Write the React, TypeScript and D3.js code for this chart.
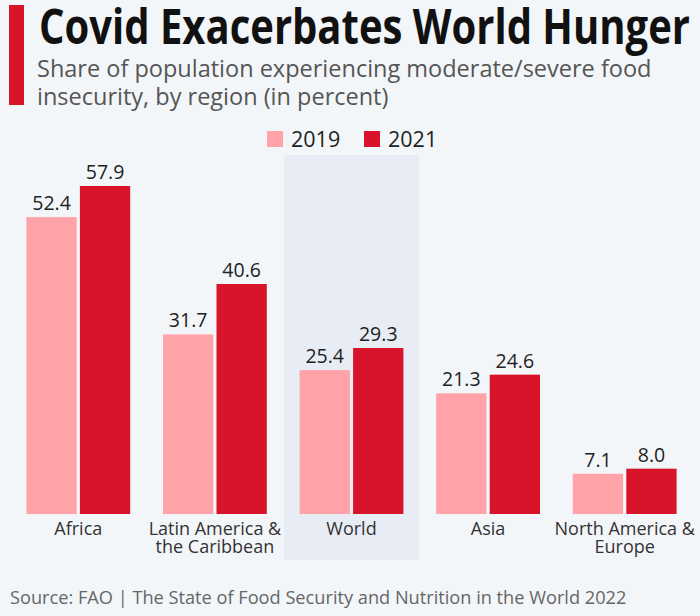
import React from "react";
import * as d3 from "d3";

const categories = ["Africa", "Latin America &\nthe Caribbean", "World", "Asia", "North America &\nEurope"];
const values2019 = [52.4, 31.7, 25.4, 21.3, 7.1];
const values2021 = [57.9, 40.6, 29.3, 24.6, 8.0];
const seriesNames = ["2019", "2021"];
const highlight = "World";

const W = 700;
const H = 616;
const BG = "#f3f6f9";
const PINK = "#ffa3a8";
const RED = "#d7142a";
const FONT = "'Open Sans', 'Noto Sans', sans-serif";

export default function App() {
  const x = d3.scaleBand<string>().domain(categories).range([10, 693]).paddingInner(0.24).paddingOuter(0.12);
  const inner = d3.scaleBand<string>().domain(seriesNames).range([0, x.bandwidth()]).paddingInner(0.06);
  const y = d3.scaleLinear().domain([0, 57.9]).range([514, 186]);
  const series = [values2019, values2021];
  const colors = [PINK, RED];

  return (
    <svg width={W} height={H} style={{ position: "absolute", left: 0, top: 0, background: BG }} fontFamily={FONT}>
      <rect x={0} y={0} width={W} height={H} fill={BG} />
      <rect x={9} y={5} width={15} height={100} fill={RED} />
      <text x={39} y={44} fontSize={49} fontWeight={700} fill="#111" textLength={651} lengthAdjust="spacingAndGlyphs">Covid Exacerbates World Hunger</text>
      <text x={37} y={77} fontSize={23.5} fill="#555">Share of population experiencing moderate/severe food</text>
      <text x={37} y={105} fontSize={23.5} fill="#555">insecurity, by region (in percent)</text>

      {/* highlight */}
      {categories.filter((c) => c === highlight).map((c) => {
        const step = x.step();
        const cx = (x(c) as number) + x.bandwidth() / 2;
        return <rect key={c} x={cx - step / 2 + 0.5} y={155} width={step - 1} height={405} fill="#e8edf5" />;
      })}

      {/* legend */}
      {seriesNames.map((s, i) => (
        <g key={s} transform={`translate(${267 + i * 97},0)`}>
          <rect x={0} y={131} width={16} height={16} fill={colors[i]} />
          <text x={24} y={147} fontSize={21.5} fill="#222">{s}</text>
        </g>
      ))}

      {categories.map((c, ci) => (
        <g key={c} transform={`translate(${x(c)},0)`}>
          {series.map((vals, si) => {
            const bx = inner(seriesNames[si]) as number;
            const v = vals[ci];
            return (
              <g key={si}>
                <rect x={bx} y={y(v)} width={inner.bandwidth()} height={y(0) - y(v)} fill={colors[si]} />
                <text x={bx + inner.bandwidth() / 2} y={y(v) - 7} textAnchor="middle" fontSize={19.5} fill="#222">{v.toFixed(1)}</text>
              </g>
            );
          })}
          {c.split("\n").map((line, li) => (
            <text key={li} x={x.bandwidth() / 2} y={535 + li * 18} textAnchor="middle" fontSize={18} fill="#333">{line}</text>
          ))}
        </g>
      ))}

      <text x={10} y={604} fontSize={18.2} fill="#666">Source: FAO | The State of Food Security and Nutrition in the World 2022</text>
    </svg>
  );
}
